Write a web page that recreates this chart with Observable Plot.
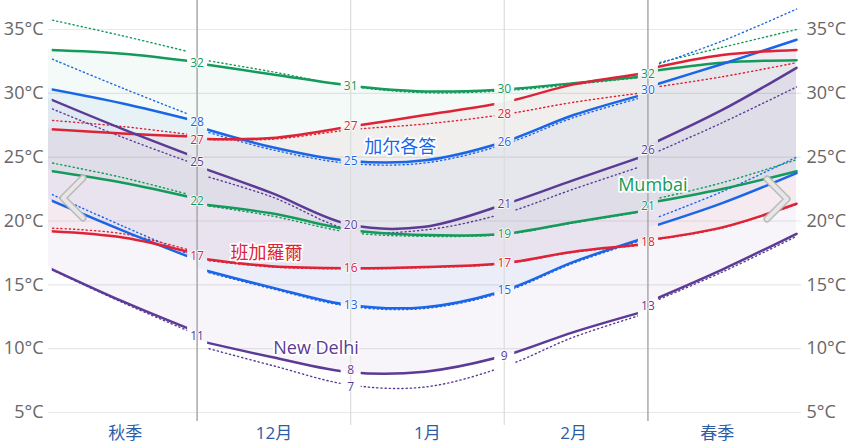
<!DOCTYPE html>
<html><head><meta charset="utf-8">
<script src="https://cdn.jsdelivr.net/npm/d3@7"></script>
<script src="https://cdn.jsdelivr.net/npm/@observablehq/plot@0.6"></script>
<style>
body{margin:0;background:#fff;}
#wrap{position:relative;width:854px;height:443px;overflow:hidden;}
#nav{position:absolute;left:0;top:0;pointer-events:none;}
</style></head><body>
<div id="wrap"></div>
<script>
// ---- data ----
const dates = ["2023-11-01","2023-11-16","2023-12-01","2023-12-01","2023-12-16","2024-01-01","2024-01-16","2024-02-01","2024-02-15","2024-03-01","2024-03-01","2024-03-16","2024-03-31"];
const segments = ["秋季","秋季","秋季","冬季","冬季","冬季","冬季","冬季","冬季","冬季","春季","春季","春季"];
const cities = ["Mumbai","加尔各答","班加羅爾","New Delhi"];
const cityColors = ["#149a5b","#1a66e6","#de2336","#5c3b96"];

const mumbaiHigh     = [33.4, 33.1, 32.45, 32.35, 31.5, 30.6, 30.15, 30.3, 30.8, 31.35, 31.7, 32.4, 32.6];
const mumbaiHighDot  = [35.8, 34.5, 33.1, 32.7, 31.7, 30.55, 30.05, 30.2, 30.7, 31.3, 32.2, 33.6, 35.0];
const mumbaiLow      = [23.95, 23.0, 21.75, 21.35, 20.6, 19.3, 18.9, 19.0, 19.9, 20.85, 21.4, 22.5, 23.9];
const mumbaiLowDot   = [24.6, 23.4, 21.9, 21.3, 20.4, 19.1, 18.8, 18.95, 19.85, 20.8, 21.6, 23.0, 24.8];

const kolkataHigh    = [30.35, 29.2, 27.8, 27.4, 25.8, 24.7, 24.75, 26.2, 28.3, 30.0, 30.5, 32.3, 34.2];
const kolkataHighDot = [32.8, 30.4, 28.1, 27.2, 25.6, 24.5, 24.55, 26.0, 28.1, 29.8, 32.0, 34.1, 36.6];
const kolkataLow     = [21.7, 19.25, 16.95, 16.3, 14.8, 13.4, 13.25, 14.55, 16.8, 18.75, 19.45, 21.4, 23.75];
const kolkataLowDot  = [22.2, 19.6, 17.1, 16.2, 14.7, 13.3, 13.15, 14.45, 16.7, 18.65, 20.0, 22.3, 25.0];

const bangaloreHigh    = [27.2, 26.85, 26.6, 26.45, 26.5, 27.4, 28.3, 29.3, 30.7, 31.6, 31.9, 33.0, 33.4];
const bangaloreHighDot = [27.9, 27.4, 26.7, 26.4, 26.4, 27.15, 27.6, 28.35, 29.3, 30.1, 30.4, 31.3, 32.4];
const bangaloreLow     = [19.2, 18.7, 17.4, 17.1, 16.45, 16.3, 16.4, 16.7, 17.6, 18.2, 18.5, 19.5, 21.35];
const bangaloreLowDot  = [19.45, 19.0, 17.55, 17.0, 16.4, 16.25, 16.35, 16.65, 17.55, 18.15, 18.45, 19.45, 21.3];

const delhiHigh    = [29.6, 27.2, 24.95, 24.3, 22.2, 19.7, 19.55, 21.3, 23.2, 25.2, 25.9, 28.7, 32.0];
const delhiHighDot = [28.9, 26.55, 24.4, 23.7, 21.9, 19.3, 19.3, 20.6, 22.5, 24.45, 25.1, 27.7, 30.5];
const delhiLow     = [16.35, 13.7, 11.3, 10.65, 9.35, 8.15, 8.2, 9.45, 11.3, 13.0, 13.65, 16.2, 19.0];
const delhiLowDot  = [16.3, 13.6, 11.1, 10.25, 8.7, 7.15, 7.0, 8.6, 10.9, 12.8, 13.5, 16.0, 18.8];

const yTicks = [5, 10, 15, 20, 25, 30, 35];
const xLabels = ["秋季", "12月", "1月", "2月", "春季"];
const xLabelDates = ["2023-11-16T12:00Z", "2023-12-16T12:00Z", "2024-01-16T12:00Z", "2024-02-15", "2024-03-15"];
const seasonBounds = ["2023-12-01", "2024-03-01"];
const monthBounds = ["2024-01-01", "2024-02-01"];

// value labels shown: [date, city index, series]
const valueLabels = [
  ["2023-12-01",0,"high"],["2023-12-01",1,"high"],["2023-12-01",2,"high"],["2023-12-01",3,"high"],
  ["2023-12-01",0,"low"],["2023-12-01",2,"low"],["2023-12-01",3,"low"],
  ["2024-01-01",0,"high"],["2024-01-01",2,"high"],["2024-01-01",1,"high"],["2024-01-01",3,"high"],
  ["2024-01-01",2,"low"],["2024-01-01",1,"low"],["2024-01-01",3,"low"],["2024-01-01",3,"lowDot"],
  ["2024-02-01",0,"high"],["2024-02-01",2,"highDot"],["2024-02-01",1,"high"],["2024-02-01",3,"high"],
  ["2024-02-01",0,"low"],["2024-02-01",2,"low"],["2024-02-01",1,"low"],["2024-02-01",3,"low"],
  ["2024-03-01",0,"high"],["2024-03-01",1,"high"],["2024-03-01",3,"high"],
  ["2024-03-01",0,"low"],["2024-03-01",2,"low"],["2024-03-01",3,"low"]
];
// city name annotations: [city index, date, temperature]
const cityNames = [[1,"2024-01-11",25.8],[2,"2023-12-15",17.5],[3,"2023-12-25",10.0],[0,"2024-03-02",22.8]];

// ---- build table ----
const series = [
  {high: mumbaiHigh, highDot: mumbaiHighDot, low: mumbaiLow, lowDot: mumbaiLowDot},
  {high: kolkataHigh, highDot: kolkataHighDot, low: kolkataLow, lowDot: kolkataLowDot},
  {high: bangaloreHigh, highDot: bangaloreHighDot, low: bangaloreLow, lowDot: bangaloreLowDot},
  {high: delhiHigh, highDot: delhiHighDot, low: delhiLow, lowDot: delhiLowDot}
];
const rows = [];
cities.forEach((c, ci) => dates.forEach((d, i) => rows.push({
  city: c, key: c + "|" + segments[i], date: new Date(d), ds: d, seg: segments[i],
  high: series[ci].high[i], low: series[ci].low[i],
  highDot: series[ci].highDot[i], lowDot: series[ci].lowDot[i]
})));
const labelRows = valueLabels.map(([d, ci, k]) => {
  const vals = rows.filter(r => r.city === cities[ci] && r.ds === d).map(r => r[k]);
  const v = d3.mean(vals);
  return {ds: d, date: new Date(d), city: cities[ci], value: v, text: String(Math.round(v)), shift: 0};
});
// nudge apart labels that sit too close at the same date
d3.groups(labelRows, r => r.ds).forEach(([, g]) => {
  g.sort((a, b) => b.value - a.value);
  for (let i = 1; i < g.length; i++) {
    if (g[i - 1].value - g[i].value < 1.2) { g[i - 1].shift = -1; g[i].shift = 1; }
  }
});
const nameRows = cityNames.map(([ci, d, t]) => ({city: cities[ci], date: new Date(d), value: t, text: cities[ci]}));
const xLabelMap = new Map(xLabelDates.map((d, i) => [+new Date(d), xLabels[i]]));

const curve = "catmull-rom";
const lineOpts = (y) => ({x: "date", y, z: "key", stroke: "city", curve});
const labelMark = (s, dy) => Plot.text(labelRows.filter(r => r.shift === s), {x: "date", y: "value", text: "text", fill: "city", fontSize: 12, dy, stroke: "white", strokeWidth: 1.5, paintOrder: "stroke"});

const plot = Plot.plot({
  width: 854, height: 443,
  marginLeft: 48, marginRight: 53, marginTop: 29, marginBottom: 31,
  style: {fontFamily: "'Open Sans','Noto Sans CJK SC',sans-serif", background: "#fff"},
  x: {type: "utc", domain: [new Date("2023-11-01"), new Date("2024-04-01")]},
  y: {domain: [5, 35]},
  color: {domain: cities, range: cityColors},
  marks: [
    Plot.gridY(yTicks, {stroke: "#e8e8e8", strokeOpacity: 1, strokeWidth: 1.2}),
    Plot.areaY(rows, {x: "date", y1: "low", y2: "high", z: "key", fill: "city", fillOpacity: 0.05, curve}),
    Plot.ruleX(monthBounds.map(d => new Date(d)), {stroke: "#dcdcdc", strokeWidth: 1.2, insetTop: -29, insetBottom: -13}),
    Plot.ruleX(seasonBounds.map(d => new Date(d)), {stroke: "#a9a9a9", strokeWidth: 1.5, insetTop: -29, insetBottom: -9}),
    Plot.lineY(rows, {...lineOpts("highDot"), strokeWidth: 1.4, strokeDasharray: "1.2 3"}),
    Plot.lineY(rows, {...lineOpts("lowDot"), strokeWidth: 1.4, strokeDasharray: "1.2 3"}),
    Plot.lineY(rows, {...lineOpts("high"), strokeWidth: 2.5}),
    Plot.lineY(rows, {...lineOpts("low"), strokeWidth: 2.5}),
    labelMark(0, 0), labelMark(-1, -2), labelMark(1, 2),
    Plot.text(nameRows, {x: "date", y: "value", text: "text", fill: "city", fontSize: 18, stroke: "white", strokeWidth: 3.5, paintOrder: "stroke"}),
    Plot.axisY({anchor: "left", ticks: yTicks, tickFormat: d => d + "°C", tickSize: 0, tickPadding: 5, fontSize: 18, color: "#666"}),
    Plot.axisY({anchor: "right", ticks: yTicks, tickFormat: d => d + "°C", tickSize: 0, tickPadding: 5, fontSize: 18, color: "#666"}),
    Plot.axisX({ticks: xLabelDates.map(d => new Date(d)), tickFormat: d => xLabelMap.get(+d), tickSize: 0, tickPadding: 14, fontSize: 17, color: "#2a5ea8"})
  ]
});

// break lines at month boundaries (gaps like the reference)
(function () {
  const NS = "http://www.w3.org/2000/svg";
  const xs = plot.scale("x");
  const gap = 10;
  const b = [...seasonBounds.slice(0, 1), ...monthBounds, ...seasonBounds.slice(1)].map(d => xs.apply(new Date(d)));
  const edges = [xs.apply(new Date(dates[0])) + 3, ...b.flatMap(v => [v - gap, v + gap]), xs.apply(new Date(dates[dates.length - 1])) + 2];
  const cp = document.createElementNS(NS, "clipPath");
  cp.setAttribute("id", "monthgaps");
  for (let i = 0; i < edges.length; i += 2) {
    const r = document.createElementNS(NS, "rect");
    r.setAttribute("x", edges[i]); r.setAttribute("y", -50);
    r.setAttribute("width", edges[i + 1] - edges[i]); r.setAttribute("height", 600);
    cp.appendChild(r);
  }
  plot.insertBefore(cp, plot.firstChild);
  plot.querySelectorAll('g[aria-label="line"]').forEach(g => g.setAttribute("clip-path", "url(#monthgaps)"));
})();

const wrap = document.getElementById("wrap");
wrap.appendChild(plot);
// carousel arrows (page decoration)
wrap.insertAdjacentHTML("beforeend", `<svg id="nav" width="854" height="443">
  <g fill="none" stroke-linecap="round" stroke-linejoin="round">
    <polyline points="83,178 63,198 83,218" stroke="#b9b9b9" stroke-width="7"/>
    <polyline points="83,178 63,198 83,218" stroke="#e6e6e6" stroke-width="4"/>
    <polyline points="767,179 787,199 767,219" stroke="#b9b9b9" stroke-width="7"/>
    <polyline points="767,179 787,199 767,219" stroke="#e6e6e6" stroke-width="4"/>
  </g></svg>`);
</script>
</body></html>
